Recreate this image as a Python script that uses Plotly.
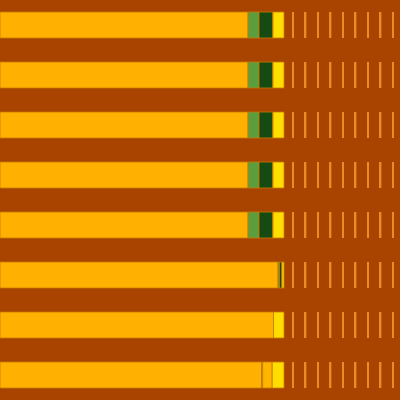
import numpy as np
import plotly.graph_objects as go

# Palette
COLOR_BG = "#A84300"
COLOR_ORANGE = "#FFB000"
COLOR_LIGHT_GREEN = "#5C9D3E"
COLOR_DARK_GREEN = "#154B12"
COLOR_AMBER = "#FFB400"
COLOR_YELLOW = "#FFDD00"
COLOR_TICK = "#EA8C26"
COLOR_EDGE = "#C87C00"

rows = ["r1", "r2", "r3", "r4", "r5", "r6", "r7", "r8"]

# segment lengths per row (left to right)
orange = [248, 248, 248, 248, 248, 278, 273.5, 261.5]
light_green = [11, 11, 11, 11, 11, 1.5, 0, 1.2]
dark_green = [14, 14, 14, 14, 14, 2.5, 0, 0]
amber = [0, 0, 0, 0, 0, 0, 0, 9.5]
yellow = [11, 11, 11, 11, 11, 2, 10.5, 11.8]

# thin marks to the right of each bar
tick_positions = [293, 305.5, 318, 330.5, 343, 355.5, 368, 380.5, 393]
tick_width = 1.8

segments = [
    ("orange", orange, COLOR_ORANGE),
    ("light green", light_green, COLOR_LIGHT_GREEN),
    ("dark green", dark_green, COLOR_DARK_GREEN),
    ("amber", amber, COLOR_AMBER),
    ("yellow", yellow, COLOR_YELLOW),
]

fig = go.Figure()

base = np.zeros(len(rows))
for name, values, color in segments:
    vals = np.array(values, dtype=float)
    fig.add_trace(
        go.Bar(
            y=rows,
            x=vals,
            base=base.copy(),
            orientation="h",
            name=name,
            marker=dict(color=color, line=dict(color=COLOR_EDGE, width=0.8)),
        )
    )
    base = base + vals

tick_rows = [r for r in rows for _ in tick_positions]
tick_base = [p - tick_width / 2 for _ in rows for p in tick_positions]
fig.add_trace(
    go.Bar(
        y=tick_rows,
        x=[tick_width] * len(tick_rows),
        base=tick_base,
        orientation="h",
        name="ticks",
        marker=dict(color=COLOR_TICK, line=dict(width=0)),
    )
)

fig.update_layout(
    width=400,
    height=400,
    barmode="overlay",
    bargap=0.48,
    showlegend=False,
    paper_bgcolor=COLOR_BG,
    plot_bgcolor=COLOR_BG,
    margin=dict(l=0, r=0, t=0, b=0),
    xaxis=dict(range=[0, 400], visible=False, fixedrange=True),
    yaxis=dict(autorange="reversed", visible=False, fixedrange=True),
)

fig.write_html(
    "out.html",
    config=dict(displayModeBar=False),
    post_script="document.body.style.margin='0';document.body.style.background='%s';" % COLOR_BG,
)
